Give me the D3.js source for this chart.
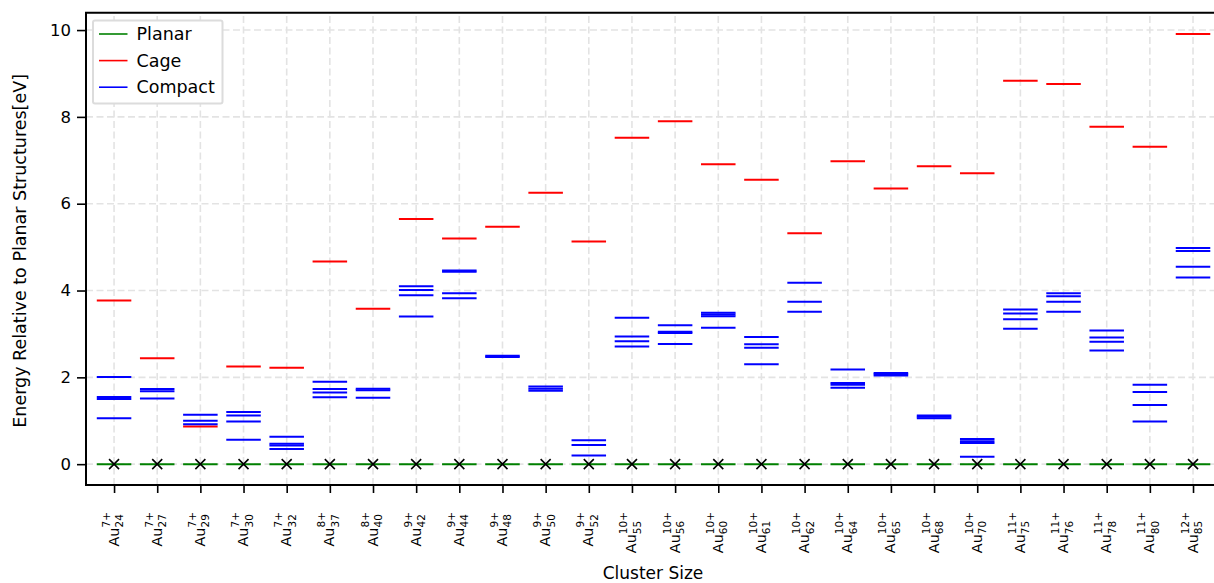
<!DOCTYPE html>
<html>
<head>
<meta charset="utf-8">
<script src="https://cdn.jsdelivr.net/npm/d3@7"></script>
<style>
  body { margin: 0; background: #fff; }
  svg { display: block; font-family: "DejaVu Sans", sans-serif; }
</style>
</head>
<body>
<svg id="chart" width="1214" height="583"></svg>
<script>
// cluster sizes (subscript) and charges (superscript) for the tick labels
const sizes = [24, 27, 29, 30, 32, 37, 40, 42, 44, 48, 50, 52, 55, 56, 60, 61, 62, 64, 65, 68, 70, 75, 76, 78, 80, 85];
const charges = [7, 7, 7, 7, 7, 8, 8, 9, 9, 9, 9, 9, 10, 10, 10, 10, 10, 10, 10, 10, 10, 11, 11, 11, 11, 12];

// energies relative to planar (eV)
const planar = sizes.map(() => 0);
const cage = [3.77, 2.44, 0.87, 2.25, 2.22, 4.67, 3.58, 5.65, 5.20, 5.47, 6.25, 5.13, 7.52,
              7.90, 6.91, 6.55, 5.32, 6.98, 6.35, 6.86, 6.70, 8.83, 8.76, 7.77, 7.31, 9.91];
const compact = [
    [2.01, 1.55, 1.50, 1.06],
    [1.73, 1.68, 1.51],
    [1.14, 1.00, 0.92],
    [1.20, 1.12, 0.98, 0.56],
    [0.63, 0.47, 0.43, 0.35],
    [1.90, 1.73, 1.65, 1.54],
    [1.74, 1.70, 1.53],
    [4.10, 4.01, 3.89, 3.40],
    [4.46, 4.43, 3.94, 3.82],
    [2.50, 2.47],
    [1.79, 1.74, 1.69],
    [0.55, 0.44, 0.20],
    [3.37, 2.94, 2.83, 2.71],
    [3.20, 3.05, 3.02, 2.77],
    [3.49, 3.45, 3.41, 3.14],
    [2.93, 2.76, 2.68, 2.30],
    [4.18, 3.74, 3.51],
    [2.18, 1.87, 1.83, 1.76],
    [2.10, 2.07, 2.04],
    [1.12, 1.09, 1.06],
    [0.58, 0.53, 0.49, 0.17],
    [3.56, 3.47, 3.34, 3.12],
    [3.94, 3.87, 3.74, 3.51],
    [3.08, 2.92, 2.82, 2.62],
    [1.83, 1.665, 1.365, 0.98],
    [4.98, 4.91, 4.55, 4.30]
];
const yTicks = [0, 2, 4, 6, 8, 10];

const svg = d3.select('#chart');
const x = d3.scaleLinear().domain([-0.65, 25.5]).range([86, 1214.6]);
const y = d3.scaleLinear().domain([-0.48, 10.4]).range([485, 12.7]);
const idx = d3.range(sizes.length);
const half = 0.4;

// grid
const grid = svg.append('g')
    .attr('stroke', '#e3e3e3')
    .attr('stroke-width', 1.6)
    .attr('stroke-dasharray', '7,3.5');
grid.selectAll('line.v').data(idx).join('line')
    .attr('x1', d => x(d)).attr('x2', d => x(d))
    .attr('y1', y.range()[0]).attr('y2', y.range()[1]);
grid.selectAll('line.h').data(yTicks).join('line')
    .attr('x1', x.range()[0]).attr('x2', x.range()[1])
    .attr('y1', d => y(d)).attr('y2', d => y(d));

// horizontal level lines
function levels(cls, rows, color) {
    svg.append('g').attr('class', cls)
        .selectAll('line').data(rows).join('line')
        .attr('x1', d => x(d.i - half)).attr('x2', d => x(d.i + half))
        .attr('y1', d => y(d.v)).attr('y2', d => y(d.v))
        .attr('stroke', color).attr('stroke-width', 2);
}
levels('planar', planar.map((v, i) => ({ i, v })), '#008000');
levels('cage', cage.map((v, i) => ({ i, v })), '#ff0000');
levels('compact', compact.flatMap((vs, i) => vs.map(v => ({ i, v }))), '#0000ff');

// x markers on planar
const mk = 5;
svg.append('g').selectAll('path').data(planar.map((v, i) => ({ i, v }))).join('path')
    .attr('d', d => {
        const cx = x(d.i), cy = y(d.v);
        return `M${cx - mk},${cy - mk}L${cx + mk},${cy + mk}M${cx - mk},${cy + mk}L${cx + mk},${cy - mk}`;
    })
    .attr('stroke', '#000').attr('stroke-width', 1.6).attr('fill', 'none');

// axes
const yAxis = svg.append('g').attr('transform', `translate(${x.range()[0]},0)`)
    .call(d3.axisLeft(y).tickValues(yTicks).tickSize(9).tickPadding(6).tickFormat(d3.format('d')));
yAxis.select('.domain').remove();
yAxis.selectAll('line').attr('stroke', '#000').attr('stroke-width', 1.6);
yAxis.selectAll('text').attr('font-size', 16.5).attr('fill', '#000')
    .attr('font-family', '"DejaVu Sans", sans-serif');

const xAxis = svg.append('g').attr('transform', `translate(0,${y.range()[0]})`)
    .call(d3.axisBottom(x).tickValues(idx).tickSize(8).tickFormat(''));
xAxis.select('.domain').remove();
xAxis.selectAll('line').attr('stroke', '#000').attr('stroke-width', 1.6);

// spines
const [x0, x1] = x.range(), [yb, yt] = y.range();
svg.append('path')
    .attr('d', `M${x1 + 2},${yt}H${x0}V${yb}H${x1 + 2}`)
    .attr('fill', 'none').attr('stroke', '#000').attr('stroke-width', 2);

// rotated math tick labels: Au^{n+}_{m}
const labels = svg.append('g');
idx.forEach(i => {
    const g = labels.append('g')
        .attr('transform', `translate(${x(i)},512) rotate(-90)`);
    const base = g.append('text').attr('font-size', 14.5).attr('y', 4.5).text('Au');
    const sup = g.append('text').attr('font-size', 10.5).attr('y', -4.5).text(charges[i] + '+');
    const sub = g.append('text').attr('font-size', 10.5).attr('y', 9).text(sizes[i]);
    const wb = base.node().getComputedTextLength();
    const w = wb + Math.max(sup.node().getComputedTextLength(), sub.node().getComputedTextLength());
    base.attr('x', -w);
    sup.attr('x', -w + wb);
    sub.attr('x', -w + wb);
});

// axis titles
svg.append('text')
    .attr('x', 653).attr('y', 579)
    .attr('text-anchor', 'middle').attr('font-size', 17)
    .text('Cluster Size');
svg.append('text')
    .attr('transform', `translate(26,${(yt + yb) / 2 + 2}) rotate(-90)`)
    .attr('text-anchor', 'middle').attr('font-size', 17.5)
    .text('Energy Relative to Planar Structures[eV]');

// legend
const legendItems = [
    { name: 'Planar', color: '#008000' },
    { name: 'Cage', color: '#ff0000' },
    { name: 'Compact', color: '#0000ff' }
];
const lg = svg.append('g');
lg.append('rect')
    .attr('x', 93).attr('y', 20.5).attr('width', 129.5).attr('height', 83)
    .attr('rx', 2).attr('fill', '#fff').attr('stroke', '#dcdcdc').attr('stroke-width', 2);
legendItems.forEach((d, k) => {
    const cy = 34 + k * 26.6;
    lg.append('line').attr('x1', 99).attr('x2', 127.5).attr('y1', cy).attr('y2', cy)
        .attr('stroke', d.color).attr('stroke-width', 1.6);
    lg.append('text').attr('x', 136.5).attr('y', cy + 6.2).attr('font-size', 17.5).text(d.name);
});
</script>
</body>
</html>
